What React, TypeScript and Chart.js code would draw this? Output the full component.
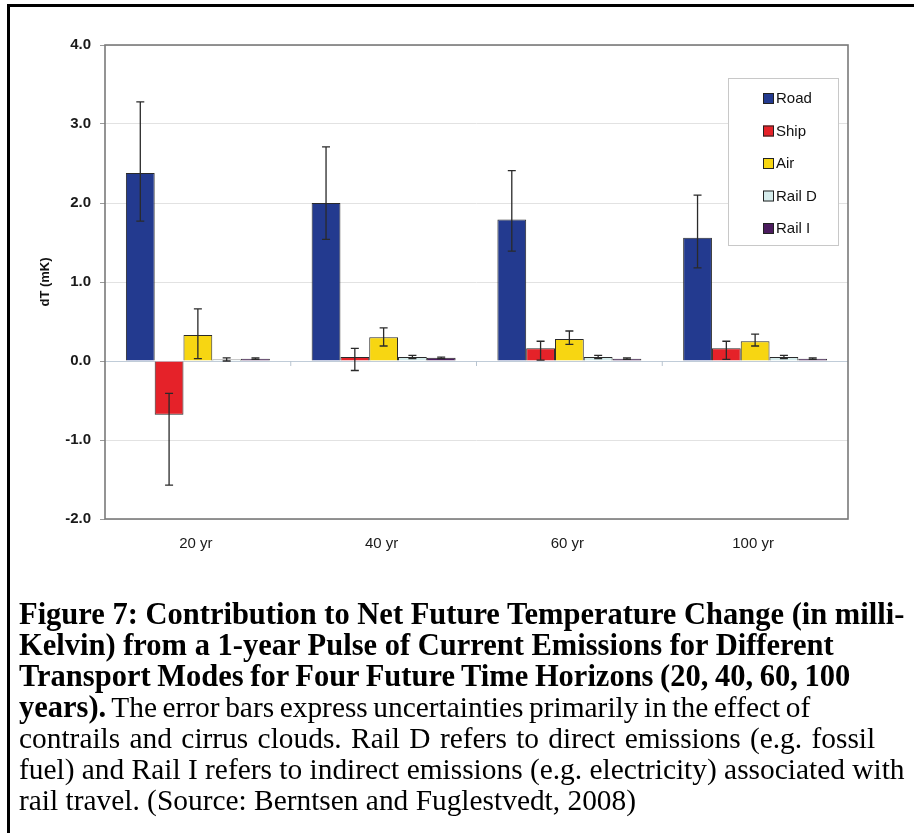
import React, { useEffect, useRef } from "react";
import { Chart, registerables } from "chart.js";

Chart.register(...registerables);

const categories = ["20 yr", "40 yr", "60 yr", "100 yr"];
const seriesNames = ["Road", "Ship", "Air", "Rail D", "Rail I"];
const roadValues = [2.38, 2.0, 1.79, 1.56];
const shipValues = [-0.68, 0.05, 0.16, 0.16];
const airValues = [0.33, 0.3, 0.28, 0.25];
const railDValues = [0.02, 0.05, 0.05, 0.05];
const railIValues = [0.03, 0.04, 0.03, 0.03];
const roadHigh = [3.28, 2.71, 2.41, 2.1];
const roadLow = [1.77, 1.54, 1.39, 1.18];
const shipHigh = [-0.41, 0.16, 0.25, 0.25];
const shipLow = [-1.57, -0.12, 0.01, 0.02];
const airHigh = [0.66, 0.42, 0.38, 0.34];
const airLow = [0.03, 0.19, 0.21, 0.19];
const railDHigh = [0.04, 0.07, 0.07, 0.07];
const railDLow = [0.0, 0.03, 0.03, 0.03];
const railIHigh = [0.04, 0.05, 0.04, 0.04];
const railILow = [0.02, 0.03, 0.02, 0.02];
const yTickMin = -2;
const yTickMax = 4;
const yTickStep = 1;

const seriesColors = ["#233a8f", "#e52229", "#f7d612", "#d5ecec", "#4b1c5e"];
const allValues = [roadValues, shipValues, airValues, railDValues, railIValues];
const allHigh = [roadHigh, shipHigh, airHigh, railDHigh, railIHigh];
const allLow = [roadLow, shipLow, airLow, railDLow, railILow];

const errorBarPlugin = {
  id: "errorBars",
  afterDatasetsDraw(chart: any) {
    const ctx = chart.ctx;
    const y = chart.scales.y;
    ctx.save();
    ctx.strokeStyle = "#2a2a2a";
    ctx.lineWidth = 1.3;
    chart.data.datasets.forEach((ds: any, i: number) => {
      const meta = chart.getDatasetMeta(i);
      meta.data.forEach((bar: any, j: number) => {
        const x = bar.x;
        const yh = y.getPixelForValue(ds.errHigh[j]);
        const yl = y.getPixelForValue(ds.errLow[j]);
        ctx.beginPath();
        ctx.moveTo(x, yh);
        ctx.lineTo(x, yl);
        ctx.moveTo(x - 4, yh);
        ctx.lineTo(x + 4, yh);
        ctx.moveTo(x - 4, yl);
        ctx.lineTo(x + 4, yl);
        ctx.stroke();
      });
    });
    ctx.restore();
  },
};

const framePlugin = {
  id: "frameAndLegend",
  afterDraw(chart: any) {
    const ctx = chart.ctx;
    const a = chart.chartArea;
    const y = chart.scales.y;
    ctx.save();
    ctx.strokeStyle = "#7a7a7a";
    ctx.lineWidth = 1.6;
    ctx.strokeRect(a.left, a.top, a.right - a.left, a.bottom - a.top);
    const y0 = y.getPixelForValue(0);
    ctx.strokeStyle = "#b8c4d0";
    ctx.lineWidth = 1;
    const n = chart.data.labels.length;
    const w = (a.right - a.left) / n;
    for (let k = 1; k < n; k++) {
      const xx = a.left + w * k;
      ctx.beginPath();
      ctx.moveTo(xx, y0);
      ctx.lineTo(xx, y0 + 5);
      ctx.stroke();
    }
    ctx.fillStyle = "#111";
    ctx.font = "bold 13px Arial, 'Liberation Sans', sans-serif";
    ctx.textAlign = "center";
    ctx.textBaseline = "middle";
    ctx.translate(45, (a.top + a.bottom) / 2);
    ctx.rotate(-Math.PI / 2);
    ctx.fillText("dT (mK)", 0, 0);
    ctx.restore();

    ctx.save();
    const bx = a.right - 120;
    const by = a.top + 33;
    const bw = 110;
    const bh = 167;
    ctx.fillStyle = "#ffffff";
    ctx.fillRect(bx, by, bw, bh);
    ctx.strokeStyle = "#c8c8c8";
    ctx.lineWidth = 1;
    ctx.strokeRect(bx + 0.5, by + 0.5, bw, bh);
    ctx.font = "15px Arial, 'Liberation Sans', sans-serif";
    ctx.textAlign = "left";
    ctx.textBaseline = "middle";
    chart.data.datasets.forEach((ds: any, i: number) => {
      const cy = by + 20 + i * 32.5;
      ctx.fillStyle = ds.backgroundColor;
      ctx.fillRect(bx + 35, cy - 5, 11, 11);
      ctx.strokeStyle = "#222";
      ctx.lineWidth = 1;
      ctx.strokeRect(bx + 35.5, cy - 4.5, 10, 10);
      ctx.fillStyle = "#111";
      ctx.fillText(ds.label, bx + 48, cy + 1);
    });
    ctx.restore();
  },
};

export default function App() {
  const ref = useRef<HTMLCanvasElement | null>(null);
  useEffect(() => {
    if (!ref.current) return;
    const chart = new Chart(ref.current, {
      type: "bar",
      data: {
        labels: categories,
        datasets: seriesNames.map((name, i) => ({
          label: name,
          data: allValues[i],
          errHigh: allHigh[i],
          errLow: allLow[i],
          backgroundColor: seriesColors[i],
          borderColor: "#2a2a2a",
          borderWidth: 1,
          categoryPercentage: 0.775,
          barPercentage: 1,
        })) as any,
      },
      options: {
        animation: false,
        responsive: false,
        layout: { padding: { left: 0, right: 66, top: 45, bottom: 41 } },
        plugins: { legend: { display: false }, tooltip: { enabled: false } },
        scales: {
          x: {
            grid: { display: false, drawTicks: false },
            border: { display: false },
            ticks: {
              padding: 16,
              labelOffset: -2,
              color: "#1a1a1a",
              font: { family: "Arial, 'Liberation Sans', sans-serif", size: 15 },
            },
            afterFit(scale: any) {
              scale.height = 40;
            },
          },
          y: {
            min: yTickMin,
            max: yTickMax,
            ticks: {
              stepSize: yTickStep,
              padding: 9,
              color: "#1a1a1a",
              font: { family: "Arial, 'Liberation Sans', sans-serif", size: 15, weight: "bold" },
              callback: (v: any) => Number(v).toFixed(1),
            },
            grid: {
              color: (c: any) => (c.tick && c.tick.value === 0 ? "#c0ccd8" : "#e2e2e2"),
              tickLength: 5,
              tickColor: "#9a9a9a",
              lineWidth: 1,
            },
            border: { display: false },
            afterFit(scale: any) {
              scale.width = 105;
            },
          },
        },
      },
      plugins: [errorBarPlugin, framePlugin],
    } as any);
    return () => chart.destroy();
  }, []);

  const boldLine: React.CSSProperties = {
    whiteSpace: "nowrap",
    height: 31,
    fontSize: 30.5,
    fontWeight: "bold",
  };
  const regLine: React.CSSProperties = { whiteSpace: "nowrap", height: 31, fontSize: 29.4 };
  return (
    <div
      style={{
        position: "fixed",
        left: 0,
        top: 0,
        width: 914,
        height: 833,
        overflow: "hidden",
        background: "#fff",
      }}
    >
      <div
        style={{
          position: "absolute",
          left: 7,
          top: 4,
          width: 940,
          height: 860,
          borderTop: "3px solid #000",
          borderLeft: "3px solid #000",
        }}
      />
      <canvas
        ref={ref}
        width={914}
        height={600}
        style={{ position: "absolute", left: 0, top: 0, width: 914, height: 600 }}
      />
      <div
        style={{
          position: "absolute",
          left: 19,
          top: 599,
          fontFamily: "'Liberation Serif', 'Times New Roman', serif",
          lineHeight: "31px",
          color: "#000",
        }}
      >
        <div style={boldLine}>Figure 7: Contribution to Net Future Temperature Change (in milli-</div>
        <div style={boldLine}>Kelvin) from a 1-year Pulse of Current Emissions for Different</div>
        <div style={{ ...boldLine, wordSpacing: -1 }}>
          Transport Modes for Four Future Time Horizons (20, 40, 60, 100
        </div>
        <div style={{ ...regLine, wordSpacing: -1.8 }}>
          <b style={{ fontSize: 30.5 }}>years).</b> The error bars express uncertainties primarily in the
          effect of
        </div>
        <div style={{ ...regLine, wordSpacing: 2 }}>
          contrails and cirrus clouds. Rail D refers to direct emissions (e.g. fossil
        </div>
        <div style={regLine}>
          fuel) and Rail I refers to indirect emissions (e.g. electricity) associated with
        </div>
        <div style={regLine}>rail travel. (Source: Berntsen and Fuglestvedt, 2008)</div>
      </div>
    </div>
  );
}
